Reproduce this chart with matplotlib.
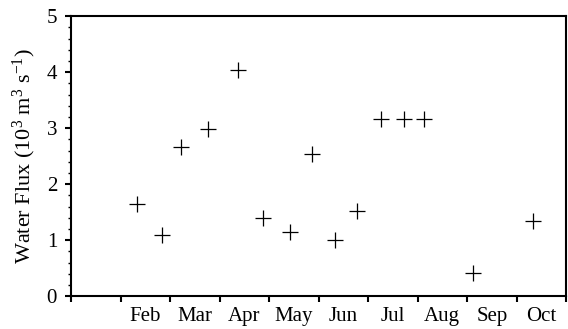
import numpy as np
import matplotlib.pyplot as plt
from matplotlib.ticker import MultipleLocator, FixedLocator, NullFormatter

plt.rcParams['font.family'] = ['Liberation Serif', 'DejaVu Serif']
plt.rcParams['mathtext.fontset'] = 'custom'
plt.rcParams['mathtext.rm'] = 'Liberation Serif'
plt.rcParams['mathtext.it'] = 'Liberation Serif:italic'

# month positions (0 = start of Jan) and flux values
month_pos = [1.33, 1.83, 2.23, 2.77, 3.38, 3.88, 4.42, 4.86, 5.33, 5.78,
             6.27, 6.72, 7.14, 8.13, 9.34]
flux = [1.64, 1.09, 2.67, 2.99, 4.04, 1.39, 1.15, 2.54, 1.00, 1.52,
        3.17, 3.17, 3.17, 0.42, 1.35]
month_labels = ['Feb', 'Mar', 'Apr', 'May', 'Jun', 'Jul', 'Aug', 'Sep', 'Oct']

fig = plt.figure(figsize=(5.68, 3.29), dpi=100)
ax = fig.add_axes([0.125, 0.100, 0.8715, 0.851])

ax.plot(month_pos, flux, linestyle='none', marker='+', markersize=11,
        markeredgewidth=0.9, color='black')

ax.set_xlim(0, 10)
ax.set_ylim(0, 5)

# month boundaries as ticks, names centered between them
ax.xaxis.set_major_locator(FixedLocator(np.arange(0, 11)))
ax.xaxis.set_major_formatter(NullFormatter())
ax.xaxis.set_minor_locator(FixedLocator(np.arange(1.5, 10, 1)))
ax.set_xticklabels(month_labels, minor=True)
ax.tick_params(axis='x', which='minor', length=0, pad=8, labelsize=15)
ax.tick_params(axis='x', which='major', length=4, width=1.5)

ax.yaxis.set_major_locator(MultipleLocator(1))
ax.yaxis.set_minor_locator(MultipleLocator(0.2))
ax.tick_params(axis='y', which='major', length=4, width=1.5, labelsize=15, pad=6)
ax.tick_params(axis='y', which='minor', length=2.5, width=1.0)

for s in ax.spines.values():
    s.set_linewidth(1.5)

ax.set_ylabel(r'Water Flux (10$^3$ m$^3$ s$^{-1}$)', fontsize=16, labelpad=6)

fig.savefig('out.png', dpi=100)
